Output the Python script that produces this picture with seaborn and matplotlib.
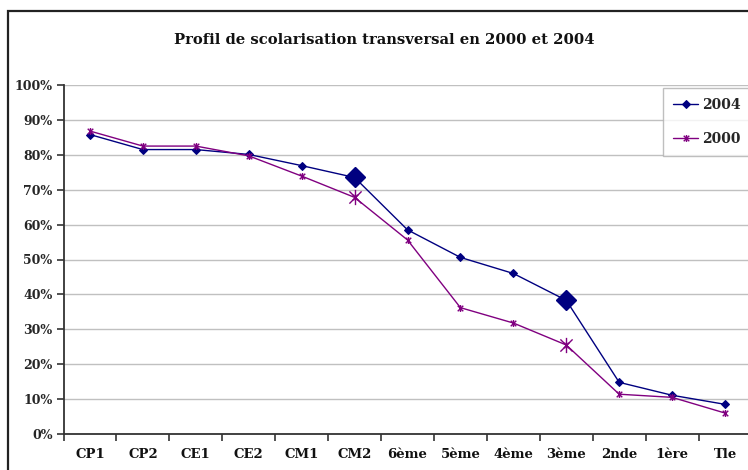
import numpy as np
import pandas as pd
import matplotlib
matplotlib.use("Agg")
import matplotlib.pyplot as plt
import seaborn as sns
from matplotlib.path import Path
from matplotlib.patches import Rectangle
from matplotlib.ticker import FixedLocator, FuncFormatter

categories = ["CP1", "CP2", "CE1", "CE2", "CM1", "CM2", "6ème", "5ème",
              "4ème", "3ème", "2nde", "1ère", "Tle"]
values_2004 = [85.8, 81.5, 81.5, 80.1, 76.9, 73.5, 58.5, 50.6, 46.0, 38.3, 14.8, 11.1, 8.5]
values_2000 = [86.8, 82.5, 82.5, 79.7, 73.9, 67.8, 55.6, 36.2, 31.8, 25.5, 11.4, 10.5, 6.0]
series_names = ["2004", "2000"]
highlight_idx = [5, 9]
yticks = [0, 10, 20, 30, 40, 50, 60, 70, 80, 90, 100]

colors = {"2004": "#000080", "2000": "#800080"}

sns.set_theme(style="white")
plt.rcParams["font.family"] = ["DejaVu Serif"]
plt.rcParams["font.weight"] = "bold"

# Excel-like star marker: X plus vertical bar
star = Path([(-1, -1), (1, 1), (-1, 1), (1, -1), (0, -1.25), (0, 1.25)],
            [Path.MOVETO, Path.LINETO] * 3)

x = np.arange(len(categories))
df = pd.DataFrame({
    "x": np.concatenate([x, x]),
    "value": values_2004 + values_2000,
    "série": [series_names[0]] * len(x) + [series_names[1]] * len(x),
})

fig = plt.figure(figsize=(7.48, 4.70), dpi=100)
fig.patch.set_facecolor("white")
ax = fig.add_axes([63.5 / 748, 36 / 470, 688 / 748, 349 / 470])

# outer chart border
fig.patches.append(Rectangle((8 / 748, -0.2), 1.2, (470 - 11) / 470 + 0.2,
                             transform=fig.transFigure, fill=False,
                             ec="#222222", lw=1.6, zorder=0))

sub04 = df[df["série"] == "2004"]
sub00 = df[df["série"] == "2000"]
sns.lineplot(data=sub04, x="x", y="value", ax=ax, color=colors["2004"],
             lw=1.0, marker="D", markersize=4.5, markeredgecolor=colors["2004"],
             label="2004")
sns.lineplot(data=sub00, x="x", y="value", ax=ax, color=colors["2000"],
             lw=1.0, marker=star, markersize=5, markerfacecolor="none",
             markeredgecolor=colors["2000"], markeredgewidth=1.0, label="2000")

# enlarged highlighted points
hi04 = sub04.iloc[highlight_idx]
hi00 = sub00.iloc[highlight_idx]
ax.plot(hi04["x"], hi04["value"], ls="none", marker="D", markersize=10,
        color=colors["2004"], zorder=5)
ax.plot(hi00["x"], hi00["value"], ls="none", marker=star, markersize=11,
        markerfacecolor="none", markeredgecolor=colors["2000"],
        markeredgewidth=1.0, zorder=5)

ax.set_xlim(-0.5, len(categories) - 0.5)
ax.set_ylim(0, 100)
ax.set_xlabel("")
ax.set_ylabel("")

ax.xaxis.set_major_locator(FixedLocator(x))
ax.set_xticklabels(categories, fontsize=9.5, fontweight="bold", color="#111111")
ax.xaxis.set_minor_locator(FixedLocator(np.arange(-0.5, len(categories), 1.0)))
ax.tick_params(axis="x", which="major", length=0, pad=10)
ax.tick_params(axis="x", which="minor", length=5, width=1.2, color="#333333",
               direction="out", bottom=True)

ax.yaxis.set_major_locator(FixedLocator(yticks))
ax.yaxis.set_major_formatter(FuncFormatter(lambda v, p: f"{int(v)}%"))
ax.tick_params(axis="y", length=5, width=1.2, color="#333333", direction="out",
               left=True, pad=3, labelsize=9)
for lab in ax.get_yticklabels():
    lab.set_fontweight("bold")

ax.grid(axis="y", color="#c0c0c0", lw=1.0)
ax.set_axisbelow(True)
for s in ["top", "right"]:
    ax.spines[s].set_visible(False)
for s in ["left", "bottom"]:
    ax.spines[s].set_color("#333333")
    ax.spines[s].set_linewidth(1.3)

leg = ax.legend(loc="upper left", bbox_to_anchor=(663 / 748, 1 - 88 / 470),
                bbox_transform=fig.transFigure, frameon=True, fancybox=False,
                prop={"weight": "bold", "size": 10},
                labelspacing=1.45, handlelength=1.8, handletextpad=0.3,
                borderpad=0.72, borderaxespad=0)
leg.get_frame().set_edgecolor("#b0b0b0")
leg.get_frame().set_linewidth(1.0)

fig.text(384 / 748, 1 - 40 / 470, "Profil de scolarisation transversal en 2000 et 2004",
         ha="center", va="center", fontsize=10.6, fontweight="bold", color="#111111")

fig.savefig("out.png", dpi=100)
